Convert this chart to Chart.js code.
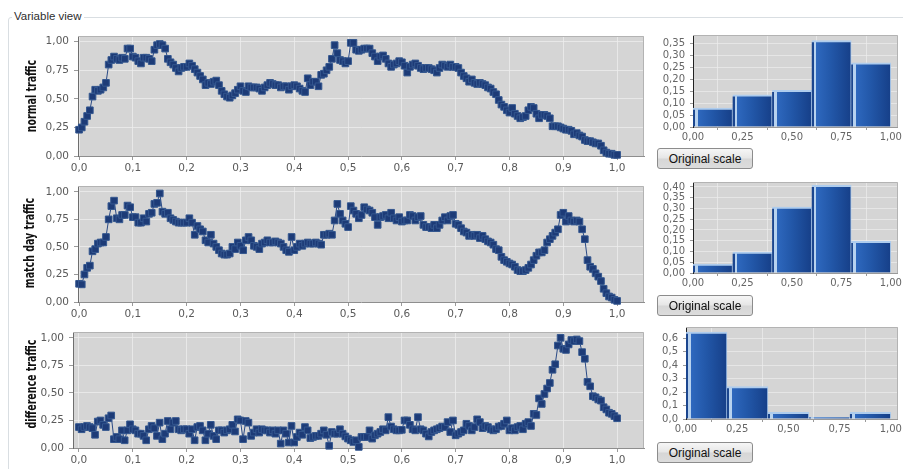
<!DOCTYPE html>
<html>
<head>
<meta charset="utf-8">
<title>Variable view</title>
<script src="https://cdn.jsdelivr.net/npm/chart.js@4.4.0/dist/chart.umd.min.js"></script>
<style>
  html, body { margin: 0; padding: 0; background: #fff; }
  body { width: 903px; height: 469px; position: relative; overflow: hidden; font-family: 'Liberation Sans', Arial, sans-serif; }
  .frame { position: absolute; left: 8px; top: 17px; width: 910px; height: 480px; border: 1px solid #d9dee2; border-radius: 3px; }
  .frame-title { position: absolute; left: 12px; top: 10px; padding: 0 2px; background: #fff; font-size: 11.5px; line-height: 13px; color: #2e2e2e; }
  canvas { position: absolute; }
  .axis-title { position: absolute; white-space: nowrap; color: #111;
    font: bold 14px 'DejaVu Sans Condensed', 'DejaVu Sans', sans-serif; line-height: 14px;
    transform: translate(-50%, -50%) rotate(-90deg) scaleX(0.75); }
  .scale-btn { position: absolute; left: 657px; width: 96px; height: 21px; box-sizing: border-box;
    border: 1px solid #8c8c8c; border-radius: 3px;
    background: linear-gradient(#f6f6f6, #e6e6e6 48%, #d6d6d6 52%, #dcdcdc);
    font: 12px 'Liberation Sans', Arial, sans-serif; color: #111;
    display: flex; align-items: center; justify-content: center; }
</style>
</head>
<body>
<div class="frame"></div>
<div class="frame-title">Variable view</div>

<canvas id="normalLine"   width="650" height="155" style="left:0;top:20px"></canvas>
<canvas id="matchLine"    width="650" height="146" style="left:0;top:175px"></canvas>
<canvas id="diffLine"     width="650" height="146" style="left:0;top:321px"></canvas>

<div class="axis-title" style="left:31px;top:96px">normal traffic</div>
<div class="axis-title" style="left:29px;top:243px">match day traffic</div>
<div class="axis-title" style="left:31px;top:384px">difference traffic</div>

<canvas id="normalHist"   width="253" height="123" style="left:650px;top:20px"></canvas>
<canvas id="matchHist"    width="253" height="119" style="left:650px;top:170px"></canvas>
<canvas id="diffHist"     width="253" height="120" style="left:650px;top:315px"></canvas>

<div class="scale-btn" style="top:148px">Original scale</div>
<div class="scale-btn" style="top:295px">Original scale</div>
<div class="scale-btn" style="top:442px">Original scale</div>

<script>
// Normalised time axis: one sample every 0.005 from 0 to 1.
const timeStep = 0.005;

const normalTraffic = [
  .23,.25,.30,.35,.40,.52,.58,.57,.58,.60,
  .64,.80,.84,.87,.85,.84,.86,.85,.94,.94,
  .87,.86,.83,.81,.86,.86,.85,.83,.93,.97,
  .98,.97,.94,.85,.82,.80,.77,.74,.77,.78,
  .78,.81,.79,.76,.73,.70,.67,.62,.64,.63,
  .65,.66,.62,.57,.54,.52,.51,.53,.55,.58,
  .61,.57,.56,.61,.60,.60,.60,.59,.57,.60,
  .62,.64,.63,.62,.62,.60,.61,.61,.58,.61,
  .62,.61,.59,.57,.56,.68,.62,.65,.65,.61,
  .71,.72,.75,.78,.85,.97,.90,.84,.83,.81,
  .83,.99,.99,.93,.92,.93,.94,.94,.94,.90,
  .87,.83,.87,.88,.85,.81,.78,.80,.81,.83,
  .82,.79,.73,.78,.80,.81,.79,.77,.76,.77,
  .77,.76,.75,.73,.77,.80,.79,.78,.80,.78,
  .78,.77,.73,.70,.68,.65,.67,.64,.63,.64,
  .63,.62,.60,.59,.56,.54,.49,.45,.43,.40,
  .38,.42,.37,.35,.33,.34,.35,.40,.43,.42,
  .37,.33,.36,.36,.35,.33,.26,.26,.26,.25,
  .24,.23,.23,.22,.19,.20,.18,.17,.14,.13,
  .13,.12,.11,.11,.09,.05,.03,.02,.02,.01,.01
];

const matchDayTraffic = [
  .165,.16,.25,.31,.33,.46,.48,.53,.54,.54,
  .59,.75,.87,.92,.76,.75,.79,.79,.875,.86,
  .77,.77,.72,.72,.76,.73,.80,.81,.89,.90,
  .985,.82,.80,.81,.76,.745,.73,.72,.72,.72,
  .72,.76,.72,.61,.69,.66,.64,.56,.54,.61,
  .53,.50,.47,.44,.43,.43,.44,.50,.48,.54,
  .51,.47,.56,.59,.56,.51,.50,.48,.53,.54,
  .56,.54,.54,.55,.54,.53,.50,.47,.455,.59,
  .47,.50,.53,.51,.53,.54,.53,.53,.54,.53,
  .52,.61,.61,.62,.61,.74,.89,.80,.74,.71,
  .68,.87,.83,.80,.76,.79,.86,.84,.83,.81,
  .77,.70,.77,.78,.79,.76,.81,.76,.74,.77,
  .73,.74,.74,.79,.78,.74,.77,.78,.70,.68,
  .68,.67,.70,.67,.70,.74,.77,.74,.78,.79,
  .71,.70,.67,.64,.63,.60,.61,.60,.61,.58,
  .60,.57,.55,.54,.52,.48,.47,.41,.38,.365,
  .35,.34,.32,.29,.28,.28,.29,.31,.34,.38,
  .42,.45,.45,.47,.54,.57,.60,.63,.66,.79,
  .81,.73,.78,.74,.73,.74,.73,.66,.57,.38,
  .32,.30,.26,.23,.19,.12,.08,.05,.04,.02,.01
];

const differenceTraffic = [
  .19,.17,.19,.20,.19,.18,.12,.24,.25,.21,
  .19,.27,.295,.08,.10,.08,.16,.07,.16,.215,
  .17,.16,.13,.13,.11,.07,.17,.20,.18,.11,
  .23,.08,.13,.245,.17,.23,.245,.17,.16,.17,
  .17,.13,.17,.07,.19,.20,.16,.07,.13,.21,
  .11,.08,.16,.16,.14,.16,.17,.21,.15,.26,
  .25,.08,.245,.23,.11,.14,.17,.14,.17,.16,
  .16,.14,.16,.13,.16,.04,.16,.13,.05,.20,
  .05,.10,.14,.12,.19,.16,.09,.10,.11,.11,
  .13,.16,.12,.02,.145,.13,.13,.17,.13,.105,
  .085,.07,.055,.07,.01,.10,.10,.10,.16,.085,
  .115,.13,.145,.17,.16,.28,.195,.17,.16,.16,
  .165,.25,.25,.21,.17,.16,.28,.17,.16,.13,
  .105,.145,.16,.17,.18,.195,.19,.235,.145,.25,
  .115,.13,.145,.16,.22,.20,.16,.19,.26,.235,
  .18,.20,.19,.17,.16,.17,.195,.20,.22,.25,
  .16,.18,.16,.19,.20,.17,.22,.235,.20,.31,
  .30,.45,.40,.49,.54,.59,.71,.76,.93,1.0,
  .90,.89,.94,.98,.97,.985,.97,.87,.81,.60,
  .56,.47,.46,.44,.43,.37,.35,.32,.31,.29,.27
];

// Histogram bins (edges) and relative frequencies
const binEdges = [0, 0.2, 0.4, 0.6, 0.8, 1.0];
const normalShares = [0.079, 0.135, 0.153, 0.362, 0.269];
const matchShares  = [0.042, 0.097, 0.306, 0.408, 0.147];
const diffShares   = [0.645, 0.240, 0.050, 0.012, 0.050];

// Tick labels
const lineXTicks = [0, 0.1, 0.2, 0.3, 0.4, 0.5, 0.6, 0.7, 0.8, 0.9, 1.0];
const lineYTicks = [0, 0.25, 0.5, 0.75, 1.0];
const histXTicks = [0, 0.25, 0.5, 0.75, 1.0];
const normalHistYTicks = [0, 0.05, 0.10, 0.15, 0.20, 0.25, 0.30, 0.35];
const matchHistYTicks  = [0, 0.05, 0.10, 0.15, 0.20, 0.25, 0.30, 0.35, 0.40];
const diffHistYTicks   = [0, 0.1, 0.2, 0.3, 0.4, 0.5, 0.6];

const comma = digits => v => Number(v).toFixed(digits).replace('.', ',');

// Grey plot background plus a thin frame on the top and right edges
const plotBackground = {
  id: 'plotBackground',
  defaults: { color: '#d5d5d5', edge: '#b3b3b3' },
  beforeDraw(chart, args, opts) {
    const { ctx, chartArea: a } = chart;
    ctx.save();
    ctx.fillStyle = opts.color;
    ctx.fillRect(a.left, a.top, a.width, a.height);
    ctx.restore();
  },
  beforeDatasetsDraw(chart, args, opts) {
    const { ctx, chartArea: a } = chart;
    ctx.save();
    ctx.strokeStyle = opts.edge;
    ctx.lineWidth = 1;
    ctx.beginPath();
    ctx.moveTo(a.left, Math.round(a.top) + 0.5);
    ctx.lineTo(Math.round(a.right) - 0.5, Math.round(a.top) + 0.5);
    ctx.lineTo(Math.round(a.right) - 0.5, a.bottom);
    ctx.stroke();
    ctx.restore();
  }
};
Chart.register(plotBackground);

Chart.defaults.font.family = "'DejaVu Sans', Verdana, sans-serif";

const setTicks = values => scale => { scale.ticks = values.map(v => ({ value: v })); };

function trafficChart(id, values, xMin, yAxisWidth, padTop) {
  new Chart(document.getElementById(id), {
    type: 'line',
    data: {
      datasets: [{
        data: values.map((v, i) => ({ x: i * timeStep, y: v })),
        borderColor: '#2a4a86',
        borderWidth: 1,
        pointStyle: 'rect',
        pointRadius: 4.7,
        pointBorderWidth: 1,
        pointBackgroundColor: '#1d3b77',
        pointBorderColor: '#34578f',
        tension: 0,
        clip: false
      }]
    },
    options: {
      responsive: false,
      animation: false,
      events: [],
      layout: { padding: { top: padTop, right: 6, left: 0, bottom: 0 } },
      plugins: { legend: { display: false }, tooltip: { enabled: false } },
      scales: {
        x: {
          type: 'linear', min: xMin, max: 1.05,
          afterBuildTicks: setTicks(lineXTicks),
          afterFit: s => { s.height = 19; },
          grid: { color: 'rgba(238,238,238,0.75)', tickColor: '#9a9a9a', tickLength: 4 },
          border: { color: '#8e8e8e' },
          ticks: { color: '#5a5a5a', font: { size: 10.5 }, padding: 2, maxRotation: 0, autoSkip: false,
                   callback: comma(1) }
        },
        y: {
          type: 'linear', min: 0, max: 1.05,
          afterBuildTicks: setTicks(lineYTicks),
          afterFit: s => { s.width = yAxisWidth; },
          grid: { color: 'rgba(238,238,238,0.75)', tickColor: '#9a9a9a', tickLength: 4 },
          border: { color: '#6e6e6e' },
          ticks: { color: '#5a5a5a', font: { size: 10.5 }, padding: 5, autoSkip: false,
                   callback: comma(2) }
        }
      }
    }
  });
}

function histogramChart(id, shares, yTicks, yMax, yDigits, yAxisWidth, padTop) {
  const centres = shares.map((_, i) => (binEdges[i] + binEdges[i + 1]) / 2);
  new Chart(document.getElementById(id), {
    type: 'bar',
    data: {
      datasets: [{
        data: shares.map((s, i) => ({ x: centres[i], y: s })),
        barPercentage: 1,
        categoryPercentage: 1,
        borderColor: 'rgba(172,203,238,0.95)',
        borderWidth: { top: 2, right: 1, left: 0, bottom: 0 },
        borderSkipped: false,
        backgroundColor(ctx) {
          const chart = ctx.chart;
          if (!chart.chartArea || ctx.type !== 'data') return '#2258a8';
          const xs = chart.scales.x;
          const i = ctx.dataIndex;
          const l = xs.getPixelForValue(binEdges[i]);
          const r = xs.getPixelForValue(binEdges[i + 1]);
          const g = chart.ctx.createLinearGradient(l, 0, r, 0);
          g.addColorStop(0, '#1b468f');
          g.addColorStop(0.055, '#1b468f');
          g.addColorStop(0.056, '#b7d2ef');
          g.addColorStop(0.12, '#b7d2ef');
          g.addColorStop(0.121, '#2e68be');
          g.addColorStop(0.5, '#2257a8');
          g.addColorStop(1, '#163f88');
          return g;
        }
      }]
    },
    options: {
      responsive: false,
      animation: false,
      events: [],
      layout: { padding: { top: padTop, right: 3, left: 0, bottom: 0 } },
      plugins: { legend: { display: false }, tooltip: { enabled: false } },
      scales: {
        x: {
          type: 'linear', min: 0, max: 1.035, offset: false,
          afterBuildTicks: setTicks(histXTicks),
          afterFit: s => { s.height = 16; },
          grid: { color: 'rgba(236,236,236,0.7)', tickColor: '#9a9a9a', tickLength: 3 },
          border: { color: '#9a9a9a' },
          ticks: { color: '#666', font: { size: 10 }, padding: 1, maxRotation: 0, autoSkip: false,
                   callback: comma(2) }
        },
        y: {
          type: 'linear', min: 0, max: yMax,
          afterBuildTicks: setTicks(yTicks),
          afterFit: s => { s.width = yAxisWidth; },
          grid: { color: 'rgba(236,236,236,0.7)', tickColor: '#9a9a9a', tickLength: 3 },
          border: { color: '#222' },
          ticks: { color: '#666', font: { size: 10 }, padding: 5, autoSkip: false,
                   callback: comma(yDigits) }
        }
      }
    }
  });
}

trafficChart('normalLine', normalTraffic, -0.002, 78, 16);
trafficChart('matchLine', matchDayTraffic, -0.002, 78, 6);
trafficChart('diffLine', differenceTraffic, -0.011, 73, 8);

histogramChart('normalHist', normalShares, normalHistYTicks, 0.385, 2, 43, 15);
histogramChart('matchHist', matchShares, matchHistYTicks, 0.423, 2, 43, 12);
histogramChart('diffHist', diffShares, diffHistYTicks, 0.682, 1, 36, 12);
</script>
</body>
</html>
